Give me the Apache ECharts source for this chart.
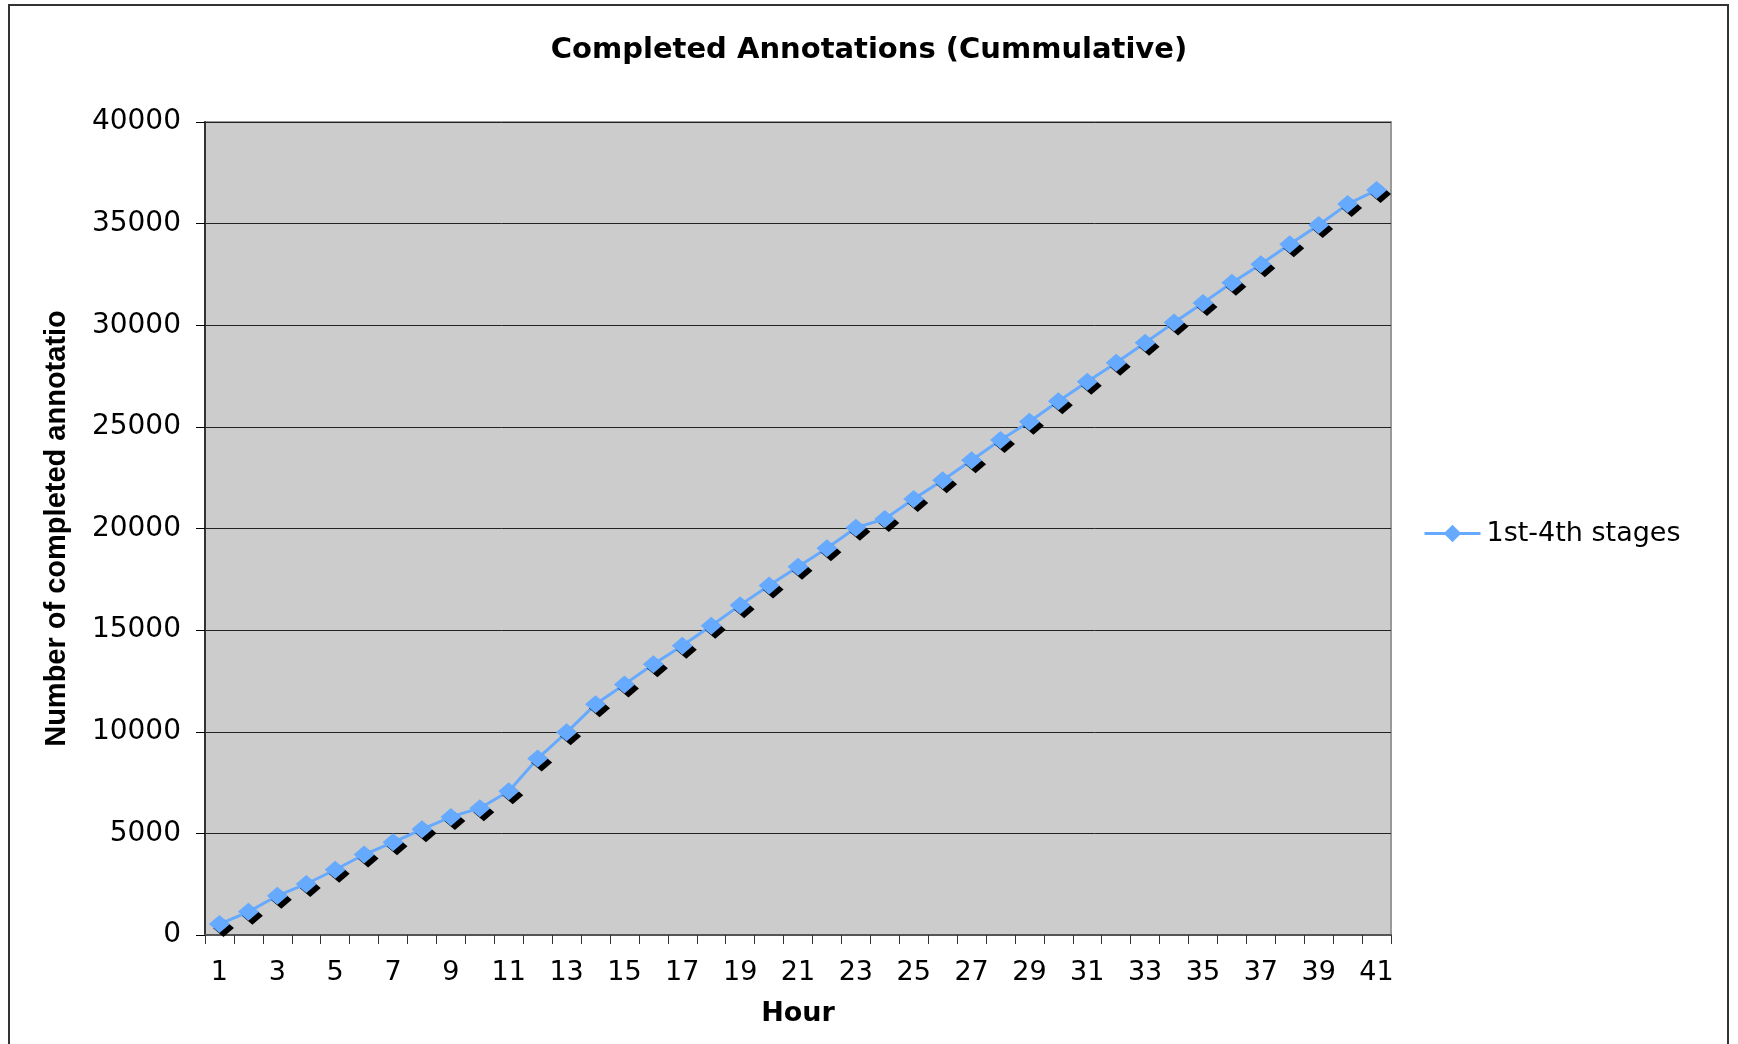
<!DOCTYPE html>
<html>
<head>
<meta charset="utf-8">
<script src="https://cdn.jsdelivr.net/npm/echarts@6/dist/echarts.min.js"></script>
<style>
  html, body {margin: 0; padding: 0; background: #fff;}
  #chart {width: 1738px; height: 1044px;}
</style>
</head>
<body>
<div id="chart"></div>
<script>
const hours = [];
for (let h = 1; h <= 41; h++) hours.push(String(h));

const completed = [
  540, 1140, 1930, 2510, 3210, 3960, 4560, 5200, 5810, 6240,
  7070, 8680, 9970, 11350, 12330, 13320, 14230, 15220, 16230, 17190,
  18120, 19030, 20040, 20470, 21450, 22370, 23360, 24350, 25250, 26260,
  27220, 28150, 29140, 30130, 31100, 32090, 33000, 33980, 34930, 35960,
  36650
];

const seriesName = '1st-4th stages';
const titleText = 'Completed Annotations (Cummulative)';
const yName = 'Number of completed annotatio';
const xName = 'Hour';

const font = 'DejaVu Sans, Verdana, sans-serif';
const blue = '#66aaff';

const chart = echarts.init(document.getElementById('chart'));
chart.setOption({
  animation: false,
  backgroundColor: '#fff',
  graphic: [{
    type: 'rect',
    shape: {x: 9, y: 5, width: 1719, height: 1100},
    style: {fill: 'none', stroke: '#333', lineWidth: 2},
    silent: true
  }],
  title: {
    text: titleText,
    left: 'center',
    top: 31,
    textStyle: {fontFamily: font, fontWeight: 'bold', fontSize: 29, color: '#000'}
  },
  legend: {
    orient: 'vertical',
    left: 1418,
    top: 515,
    itemWidth: 56,
    itemHeight: 22,
    textStyle: {fontFamily: font, fontSize: 27, color: '#000', padding: [0, 0, 0, 1]},
    lineStyle: {width: 3},
    itemStyle: {shadowColor: 'transparent', shadowOffsetX: 0, shadowOffsetY: 0},
    data: [seriesName]
  },
  grid: {
    left: 205,
    right: 347,
    top: 122,
    bottom: 109,
    show: true,
    backgroundColor: '#cccccc',
    borderColor: '#999',
    borderWidth: 2
  },
  xAxis: {
    type: 'category',
    data: hours,
    boundaryGap: true,
    name: xName,
    nameLocation: 'middle',
    nameGap: 65,
    nameTextStyle: {fontFamily: font, fontWeight: 'bold', fontSize: 27, color: '#000'},
    axisLine: {lineStyle: {color: '#555', width: 2}},
    axisTick: {show: true, interval: 0, length: 9, lineStyle: {color: '#333'}},
    axisLabel: {interval: 1, margin: 24, fontFamily: font, fontSize: 27, color: '#000'},
    splitLine: {show: false}
  },
  yAxis: {
    type: 'value',
    min: 0,
    max: 40000,
    interval: 5000,
    name: yName,
    nameLocation: 'middle',
    nameGap: 134,
    nameTextStyle: {fontFamily: 'Liberation Sans, Arial, sans-serif', fontWeight: 'bold', fontSize: 29, color: '#000'},
    axisLine: {show: true, lineStyle: {color: '#333', width: 2}},
    axisTick: {show: true, length: 9, lineStyle: {color: '#000'}},
    axisLabel: {
      margin: 24, fontFamily: font, fontSize: 28, color: '#000',
      formatter: (v) => String(v)
    },
    splitLine: {lineStyle: {color: '#222', width: 1}}
  },
  series: [{
    name: seriesName,
    type: 'line',
    data: completed,
    symbol: 'diamond',
    symbolSize: [21, 18],
    showAllSymbol: true,
    lineStyle: {color: blue, width: 3},
    itemStyle: {
      color: blue,
      shadowColor: '#000',
      shadowBlur: 0,
      shadowOffsetX: 4,
      shadowOffsetY: 4
    }
  }]
});
</script>
</body>
</html>
